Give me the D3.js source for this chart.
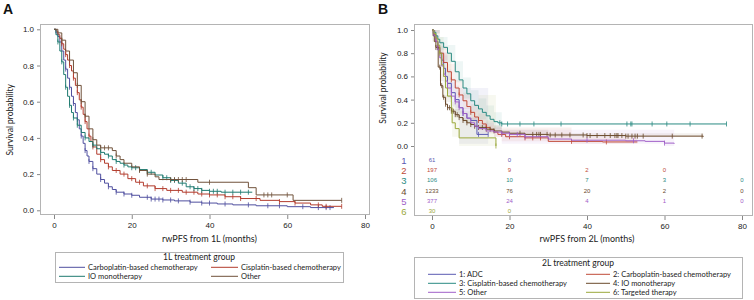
<!DOCTYPE html>
<html lang="en">
<head>
<meta charset="UTF-8">
<title>rwPFS Kaplan-Meier</title>
<script src="https://cdn.jsdelivr.net/npm/d3@7"></script>
<style>
  body { margin: 0; background: #fff; }
  text { font-family: "Liberation Sans", Arial, sans-serif; }
  .lg text, .ttl { font-family: Lato, "Liberation Sans", sans-serif; }
</style>
</head>
<body>
<script>
// ---------- data (time in months, survival probability) ----------
const xTicks = [0, 20, 40, 60, 80]
const yTicks = [0, 0.2, 0.4, 0.6, 0.8, 1.0]

// Panel A: 1L treatment groups
const aGroups = ['Carboplatin-based chemotherapy', 'Cisplatin-based chemotherapy', 'IO monotherapy', 'Other']
const aColors = ['#4f4f9f', '#b23b2c', '#1e7a70', '#70513a']
const aCarbo = [[0,1],[0.5,0.98],[1,0.96],[1.5,0.93],[2,0.88],[2.5,0.83],[3,0.78],[3.5,0.73],[4,0.68],[4.5,0.63],[5,0.59],[5.5,0.54],[6,0.5],[6.5,0.45],[7,0.41],[7.5,0.37],[8,0.33],[8.5,0.3],[9,0.27],[10,0.23],[11,0.2],[12,0.17],[13,0.15],[14,0.13],[15,0.115],[16,0.1],[18,0.09],[20,0.083],[22,0.072],[25,0.062],[28,0.057],[31,0.052],[35,0.045],[38,0.04],[42,0.035],[46,0.03],[52,0.025],[60,0.02],[66,0.015],[72,0.015]]
const aCis = [[0,1],[0.5,0.99],[1,0.97],[1.5,0.95],[2,0.92],[2.5,0.89],[3,0.86],[3.5,0.83],[4,0.8],[4.5,0.77],[5,0.73],[5.5,0.69],[6,0.65],[6.5,0.61],[7,0.57],[7.5,0.53],[8,0.49],[8.5,0.45],[9,0.41],[9.5,0.38],[10,0.35],[11,0.31],[12,0.28],[13,0.26],[14,0.24],[15,0.22],[17,0.2],[19,0.175],[21,0.155],[23,0.135],[26,0.12],[29,0.11],[33,0.1],[37,0.09],[40,0.085],[44,0.075],[48,0.065],[53,0.055],[58,0.048],[62,0.04],[66,0.03],[69,0.022],[74,0.022]]
const aIO = [[0,1],[0.5,0.97],[1,0.93],[1.5,0.88],[2,0.82],[2.5,0.75],[3,0.68],[3.5,0.63],[4,0.58],[4.5,0.54],[5,0.51],[6,0.47],[7,0.43],[8,0.4],[9,0.38],[10,0.36],[11,0.34],[12,0.32],[13,0.31],[14,0.3],[15,0.28],[16,0.27],[17,0.26],[18,0.25],[19,0.24],[20,0.235],[22,0.225],[24,0.21],[26,0.195],[28,0.18],[30,0.165],[32,0.15],[34,0.13],[36,0.12],[38,0.11],[40,0.105],[43,0.1],[51,0.1]]
const aOther = [[0,1],[1,0.98],[2,0.94],[3,0.88],[4,0.83],[5,0.76],[6,0.69],[7,0.6],[8,0.52],[9,0.45],[10,0.39],[11,0.36],[12,0.345],[15,0.33],[16,0.3],[17,0.28],[18,0.26],[20,0.24],[22,0.22],[24,0.2],[26,0.185],[27,0.17],[37,0.155],[50,0.125],[52,0.085],[61.5,0.055],[74,0.055]]
const aCensCarbo = [3,4,5,6,7,8,9,10,12,14,16,18,20,24,25,26,27,28,30,32,35,38,40,44,50,55,58,64,68,70,71]
const aCensCis = [2,3,4,5,6,7,8,9,10,12,14,16,18,20,22,24,26,28,30,32,34,36,38,40,42,44,46,48,52,58,62,68,70,74]
const aCensIO = [1,2,3,4,5,6,8,10,12,14,16,18,20,21,22,24,25,28,29,30,31,33,35,36,37,38,40,41,42,44,46,48,50]
const aCensOther = [2,4,6,7,8,10,12,13,14,16,22,24,30,31,32,33,34,40,54,55,56,60,74]

// Panel B: 2L treatment groups
const bGroups = ['1: ADC', '2: Carboplatin-based chemotherapy', '3: Cisplatin-based chemotherapy', '4: IO monotherapy', '5: Other', '6: Targeted therapy']
const bColors = ['#5a5ab2', '#c04a38', '#2a8a82', '#6b4a2c', '#a060c8', '#9aa83a']
const bADC = [[0,1],[0.5,0.95],[1,0.9],[1.5,0.85],[2,0.8],[2.5,0.74],[3,0.67],[3.5,0.6],[4,0.54],[5,0.46],[6,0.4],[7,0.33],[8,0.28],[9,0.24],[10,0.22],[11.6,0.1],[14.5,0.1]]
const bCarbo = [[0,1],[0.5,0.96],[1,0.9],[1.5,0.85],[2,0.8],[3,0.72],[4,0.64],[5,0.57],[6,0.5],[7,0.44],[8,0.39],[9,0.34],[10,0.29],[11,0.25],[12,0.22],[13,0.19],[14,0.16],[15,0.14],[16,0.12],[17,0.1],[19,0.08],[24,0.07],[30,0.04],[44,0.035],[53,0.035]]
const bCis = [[0,1],[0.5,0.98],[1,0.95],[1.5,0.92],[2,0.89],[3,0.85],[4,0.8],[5,0.73],[6,0.64],[7,0.57],[8,0.5],[9,0.45],[10,0.39],[11,0.35],[12,0.32],[13,0.29],[14,0.26],[15,0.23],[16,0.21],[17,0.2],[18,0.19],[76,0.19]]
const bIO = [[0,1],[0.3,0.95],[0.6,0.9],[1,0.85],[1.6,0.68],[2.2,0.52],[2.8,0.42],[3.5,0.36],[4,0.33],[5,0.3],[6,0.27],[7,0.245],[8,0.22],[9,0.2],[10,0.185],[11,0.17],[12,0.16],[14,0.145],[16,0.13],[18,0.12],[20,0.11],[24,0.1],[30,0.095],[40,0.09],[50,0.085],[70,0.08]]
const bOther = [[0,1],[0.5,0.95],[1,0.9],[1.5,0.83],[2,0.76],[2.5,0.69],[3,0.62],[3.5,0.56],[4,0.5],[5,0.43],[6,0.38],[7,0.33],[8,0.28],[9,0.24],[10,0.2],[11,0.17],[12,0.15],[14,0.13],[16,0.12],[18,0.11],[20,0.1],[24,0.08],[30,0.06],[36,0.05],[50,0.045],[55,0.04],[60,0.025],[62.5,0.02]]
const bTarget = [[0,1],[0.5,0.97],[1,0.93],[1.5,0.87],[2,0.8],[2.5,0.7],[3,0.6],[3.5,0.5],[4,0.43],[5,0.33],[5.2,0.2],[6,0.15],[7,0.07],[16.5,0]]
// confidence bands: [time, lower, upper]
const bandADC = [[0,0.95,1],[1,0.82,0.96],[2,0.68,0.9],[3,0.55,0.78],[4,0.42,0.66],[5,0.34,0.58],[6,0.27,0.52],[7,0.02,0.5],[12,0.02,0.5],[14.5,0.02,0.5]]
const bandCarbo = [[0,0.97,1],[2,0.74,0.86],[4,0.57,0.71],[6,0.43,0.57],[8,0.32,0.46],[10,0.23,0.36],[12,0.16,0.28],[14,0.11,0.22],[16,0.08,0.17],[18,0.04,0.16],[36,0.02,0.08],[53,0.02,0.08]]
const bandCis = [[0,0.97,1],[2,0.83,0.94],[4,0.72,0.87],[6,0.55,0.73],[8,0.41,0.59],[10,0.3,0.48],[12,0.23,0.41],[14,0.18,0.35],[16,0.14,0.29],[18,0.14,0.29]]
const bandIO = [[0,0.98,1],[1,0.83,0.87],[2,0.56,0.62],[3,0.38,0.44],[5,0.28,0.32],[8,0.2,0.24],[12,0.14,0.18],[18,0.1,0.14],[30,0.08,0.11],[70,0.06,0.1]]
const bandOther = [[0,0.97,1],[2,0.71,0.81],[4,0.45,0.55],[6,0.33,0.43],[8,0.23,0.33],[10,0.16,0.25],[12,0.11,0.2],[16,0.08,0.16],[18,0.02,0.14],[60,0.0,0.14],[62.5,0,0.14]]
const bandTarget = [[0,0.9,1],[2,0.62,0.94],[3,0.42,0.8],[5,0.18,0.52],[5.2,0.08,0.38],[7,0,0.3],[12,0,0.44],[16.5,0,0.44]]
const bCensADC = [6,8,12,14.5]
const bCensCarbo = [5,7,10,12,14,18,20,24,26,28,36,45]
const bCensCis = [17.5,18,19.5,22.7,26.3,33.3,50.3,51.3,51.6,56.8,60.6,66.6,76]
const bCensIO = [1,1.5,2,2.5,3,3.5,4,4.5,5,5.5,6,6.5,7,8,9,10,11,12,13,14,15,16,22.7,26,27,27.6,28,29.7,30.5,31.8,33.5,35.6,39,40,40.8,42.6,44.6,46,47.2,47.7,48,49,50,50.6,51.6,52.4,53,54.5,62,69.7]
const bCensOther = [3,5,6,7,8,18,20,22,24,40,52,60]
const bCensTarget = [2,16.5]
// numbers at risk at 0, 20, 40, 60, 80 months
const riskADC = [61, 0]
const riskCarbo = [197, 9, 2, 0]
const riskCis = [106, 10, 7, 3, 0]
const riskIO = [1233, 76, 20, 2, 0]
const riskOther = [377, 24, 4, 1, 0]
const riskTarget = [30, 0]

// ---------- drawing ----------
const svg = d3.select('body').append('svg').attr('width', 754).attr('height', 300)

const stepAt = (curve, t) => {
  let s = curve[0][1]
  for (const p of curve) { if (p[0] <= t) s = p[1] }
  return s
}

const panel = (o) => {
  const x = d3.scaleLinear().domain([0, 80]).range(o.xr)
  const y = d3.scaleLinear().domain([0, 1]).range(o.yr)
  const g = svg.append('g')

  g.append('rect').attr('x', o.frame[0] + 0.5).attr('y', o.frame[1] + 0.5)
    .attr('width', o.frame[2]).attr('height', o.frame[3])
    .attr('fill', 'none').attr('stroke', '#b4b4b4')

  const xa = g.append('g').attr('transform', `translate(0,${o.frame[1] + o.frame[3] + 1})`)
    .call(d3.axisBottom(x).tickValues(xTicks).tickSize(4).tickPadding(3).tickSizeOuter(0))
  const ya = g.append('g').attr('transform', `translate(${o.frame[0]},0)`)
    .call(d3.axisLeft(y).tickValues(yTicks).tickFormat(d3.format('.1f')).tickSize(3).tickPadding(3))
  ;[xa, ya].forEach(a => {
    a.select('.domain').remove()
    a.selectAll('line').attr('stroke', '#888')
    a.selectAll('text').attr('fill', '#222').style('font-size', o.tickFont + 'px')
  })

  g.append('text').attr('class', 'ttl').attr('x', (o.xr[0] + o.xr[1]) / 2).attr('y', 242)
    .attr('text-anchor', 'middle').style('font-size', '9px').attr('fill', '#222').text(o.xTitle)
  g.append('text').attr('class', 'ttl')
    .attr('transform', `translate(${o.yTitleX},${(o.yr[0] + o.yr[1]) / 2}) rotate(-90)`)
    .attr('text-anchor', 'middle').style('font-size', '8.5px').attr('fill', '#222').text('Survival probability')
  g.append('text').attr('x', o.letterX).attr('y', 14).style('font-size', '14px')
    .style('font-weight', 'bold').attr('fill', '#111').text(o.letter)

  const area = d3.area().curve(d3.curveStepAfter).x(d => x(d[0])).y0(d => y(d[1])).y1(d => y(d[2]))
  ;(o.bands || []).forEach((b, i) => {
    g.append('path').attr('d', area(b)).attr('fill', o.colors[i]).attr('fill-opacity', 0.08)
  })

  const line = d3.line().curve(d3.curveStepAfter).x(d => x(d[0])).y(d => y(d[1]))
  o.curves.forEach((c, i) => {
    g.append('path').attr('d', line(c)).attr('fill', 'none')
      .attr('stroke', o.colors[i]).attr('stroke-width', 1)
    g.selectAll(null).data(o.cens[i]).enter().append('line')
      .attr('x1', d => x(d)).attr('x2', d => x(d))
      .attr('y1', d => y(stepAt(c, d)) - 2.5).attr('y2', d => y(stepAt(c, d)) + 2.5)
      .attr('stroke', o.colors[i]).attr('stroke-width', 0.8)
  })

  if (o.risk) {
    o.risk.forEach((r, i) => {
      const ry = o.riskY[i]
      g.append('text').attr('x', o.frame[0] - 10).attr('y', ry + 3.5).attr('text-anchor', 'middle')
        .style('font-size', '9.5px').attr('fill', o.colors[i]).text(i + 1)
      g.selectAll(null).data(r).enter().append('text')
        .attr('x', (d, j) => x(xTicks[j])).attr('y', ry + 2)
        .attr('text-anchor', 'middle').style('font-size', '6px').attr('fill', o.colors[i]).text(d => d)
    })
  }

  // legend
  const L = o.legend
  const lg = g.append('g').attr('class', 'lg')
  lg.append('rect').attr('x', L.box[0] + 0.5).attr('y', L.box[1] + 0.5).attr('width', L.box[2]).attr('height', L.box[3])
    .attr('fill', 'none').attr('stroke', '#b4b4b4')
  lg.append('text').attr('x', L.box[0] + L.box[2] / 2).attr('y', L.titleY).attr('text-anchor', 'middle')
    .style('font-size', '8.5px').attr('fill', '#222').text(L.title)
  o.names.forEach((n, i) => {
    const col = L.cols[i % 2], ry = L.rows[Math.floor(i / 2)]
    lg.append('line').attr('x1', col[0]).attr('x2', col[1]).attr('y1', ry - 2.7).attr('y2', ry - 2.7)
      .attr('stroke', o.colors[i]).attr('stroke-width', 1)
    lg.append('text').attr('x', col[1] + 3).attr('y', ry).style('font-size', '7.5px').attr('fill', '#222').text(n)
  })
}

panel({
  letter: 'A', letterX: 3,
  xr: [54, 365], yr: [210.3, 29.3], frame: [40, 24, 329, 190], tickFont: 8,
  xTitle: 'rwPFS from 1L (months)', yTitleX: 13,
  colors: aColors, names: aGroups,
  curves: [aCarbo, aCis, aIO, aOther],
  cens: [aCensCarbo, aCensCis, aCensIO, aCensOther],
  legend: { box: [55, 252, 288, 30], title: '1L treatment group', titleY: 260,
            cols: [[59, 85], [211, 238]], rows: [270, 279] }
})

panel({
  letter: 'B', letterX: 378,
  xr: [432, 742], yr: [146, 30], frame: [414, 24, 338, 191], tickFont: 8,
  xTitle: 'rwPFS from 2L (months)', yTitleX: 386,
  colors: bColors, names: bGroups,
  curves: [bADC, bCarbo, bCis, bIO, bOther, bTarget],
  bands: [bandADC, bandCarbo, bandCis, bandIO, bandOther, bandTarget],
  cens: [bCensADC, bCensCarbo, bCensCis, bCensIO, bCensOther, bCensTarget],
  risk: [riskADC, riskCarbo, riskCis, riskIO, riskOther, riskTarget],
  riskY: [160, 170, 180, 191, 201, 211],
  legend: { box: [414, 257, 328, 41], title: '2L treatment group', titleY: 266,
            cols: [[428, 456], [586, 610]], rows: [277, 286, 295] }
})
</script>
</body>
</html>
